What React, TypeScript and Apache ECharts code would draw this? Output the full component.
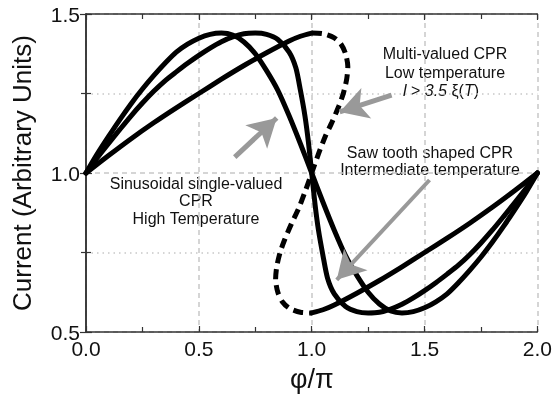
import React, { useEffect, useRef } from "react";
import * as echarts from "echarts";

// Sinusoidal single-valued CPR (peaks earliest)
const c1X = [0, 0.05, 0.1, 0.15, 0.2, 0.25, 0.3, 0.35, 0.4, 0.45, 0.5, 0.55, 0.6, 0.65, 0.7, 0.75, 0.8, 0.85, 0.9, 0.95, 1.0,
  1.05, 1.1, 1.15, 1.2, 1.25, 1.3, 1.35, 1.4, 1.45, 1.5, 1.55, 1.6, 1.65, 1.7, 1.75, 1.8, 1.85, 1.9, 1.95, 2.0];
const c1Y = [1.0, 1.06, 1.115, 1.168, 1.218, 1.264, 1.306, 1.345, 1.38, 1.405, 1.424, 1.436, 1.44, 1.434, 1.412, 1.375, 1.322, 1.26, 1.18, 1.092, 1.0,
  0.908, 0.82, 0.74, 0.678, 0.625, 0.588, 0.566, 0.56, 0.564, 0.576, 0.595, 0.62, 0.655, 0.694, 0.736, 0.782, 0.832, 0.885, 0.94, 1.0];

// Saw tooth shaped CPR
const c2X = [0, 0.05, 0.1, 0.15, 0.2, 0.25, 0.3, 0.35, 0.4, 0.45, 0.5, 0.55, 0.6, 0.65, 0.7, 0.75, 0.8, 0.85, 0.9, 0.93, 0.95, 0.97, 0.985, 1.0,
  1.015, 1.03, 1.05, 1.07, 1.1, 1.15, 1.2, 1.25, 1.3, 1.35, 1.4, 1.45, 1.5, 1.55, 1.6, 1.65, 1.7, 1.75, 1.8, 1.85, 1.9, 1.95, 2.0];
const c2Y = [1.0, 1.048, 1.093, 1.137, 1.18, 1.22, 1.257, 1.29, 1.318, 1.345, 1.37, 1.393, 1.413, 1.428, 1.438, 1.44, 1.436, 1.42, 1.38, 1.33, 1.26, 1.18, 1.1, 1.0,
  0.9, 0.82, 0.74, 0.67, 0.62, 0.58, 0.564, 0.56, 0.562, 0.572, 0.587, 0.607, 0.63, 0.655, 0.682, 0.71, 0.743, 0.78, 0.82, 0.863, 0.907, 0.952, 1.0];

// Multi-valued CPR: solid branches
const c3LeftX = [0, 0.1, 0.2, 0.3, 0.4, 0.5, 0.6, 0.7, 0.8, 0.9, 0.95, 1.0];
const c3LeftY = [1.0, 1.055, 1.108, 1.158, 1.205, 1.25, 1.295, 1.338, 1.378, 1.415, 1.43, 1.44];
const c3RightX = [1.0, 1.05, 1.1, 1.2, 1.3, 1.4, 1.5, 1.6, 1.7, 1.8, 1.9, 2.0];
const c3RightY = [0.56, 0.57, 0.585, 0.622, 0.662, 0.705, 0.75, 0.795, 0.842, 0.892, 0.945, 1.0];
// Multi-valued CPR: dashed (unstable) branch
const c3DashX = [1.0, 1.05, 1.1, 1.13, 1.15, 1.16, 1.155, 1.14, 1.12, 1.09, 1.06, 1.03, 1.0,
  0.97, 0.94, 0.91, 0.88, 0.86, 0.845, 0.84, 0.85, 0.87, 0.9, 0.95, 1.0];
const c3DashY = [1.44, 1.438, 1.425, 1.405, 1.375, 1.335, 1.295, 1.25, 1.21, 1.16, 1.115, 1.06, 1.0,
  0.94, 0.885, 0.84, 0.79, 0.75, 0.705, 0.665, 0.625, 0.595, 0.575, 0.562, 0.56];

// Annotation arrows (tail -> tip) in data coordinates
const arrowSin = [[0.659, 1.05], [0.845, 1.173]];
const arrowMulti = [[1.354, 1.245], [1.124, 1.192]];
const arrowSaw = [[1.522, 0.978], [1.111, 0.664]];

const xTicks = [0, 0.5, 1.0, 1.5, 2.0];
const yTicks = [0.5, 1.0, 1.5];

const zip = (xs: number[], ys: number[]) => xs.map((x, i) => [x, ys[i]]);

const FONT = "Liberation Sans, Arial, Helvetica, sans-serif";

export default function App() {
  const ref = useRef<HTMLDivElement>(null);
  useEffect(() => {
    if (!ref.current) return;
    const chart = echarts.init(ref.current, null, { renderer: "svg" });
    const axisLine = { show: true, lineStyle: { color: "#333", width: 1.5 } };
    const tick = { show: true, inside: true, length: 6, lineStyle: { color: "#333", width: 1.2 } };
    const minorTick = { show: true, splitNumber: 2, length: 5, lineStyle: { color: "#333", width: 1.2 } };
    const label = { color: "#111", fontSize: 21, fontFamily: FONT };
    const solid = (name: string, data: number[][]) => ({
      type: "line", name, data, showSymbol: false, smooth: 0.25, silent: true,
      lineStyle: { color: "#000", width: 5, cap: "round", join: "round" },
    });
    const arrow = (a: number[][], w: number) => [
      { coord: a[0], lineStyle: { color: "#999", width: w, type: "solid" } },
      { coord: a[1] },
    ];
    const txt = (text: string, x: number, y: number, extra: any = {}) => ({
      type: "text", x, y, silent: true,
      style: { text, fill: "#111", font: `16px ${FONT}`, textAlign: "center", textVerticalAlign: "middle", ...extra },
    });
    chart.setOption({
      animation: false,
      grid: { left: 86, right: 17, top: 14, bottom: 75, containLabel: false },
      xAxis: [
        {
          type: "value", min: 0, max: 2, interval: 0.5,
          name: "φ/π", nameLocation: "middle", nameGap: 33,
          nameTextStyle: { fontSize: 27, color: "#111", fontFamily: FONT },
          axisLine, axisTick: tick, minorTick,
          axisLabel: { ...label, margin: 6, formatter: (v: number) => (xTicks.includes(v) ? v.toFixed(1) : "") },
          splitLine: { show: true, lineStyle: { color: "#c8c8c8", width: 1.5, type: [5, 4] } },
        },
        {
          type: "value", position: "top", min: 0, max: 2, interval: 0.5,
          axisLine, axisTick: tick, minorTick, axisLabel: { show: false }, splitLine: { show: false },
        },
      ],
      yAxis: [
        {
          type: "value", min: 0.5, max: 1.5, interval: 0.5,
          name: "Current (Arbitrary Units)", nameLocation: "middle", nameGap: 51,
          nameTextStyle: { fontSize: 26, color: "#111", fontFamily: FONT },
          axisLine, axisTick: tick, minorTick,
          axisLabel: { ...label, margin: 6, formatter: (v: number) => (yTicks.includes(v) ? v.toFixed(1) : "") },
          splitLine: { show: true, lineStyle: { color: "#c8c8c8", width: 1.5, type: [5, 4] } },
          minorSplitLine: { show: true, lineStyle: { color: "#c8c8c8", width: 1.5, type: [1.5, 4] } },
        },
        {
          type: "value", position: "right", min: 0.5, max: 1.5, interval: 0.5,
          axisLine, axisTick: tick, minorTick, axisLabel: { show: false }, splitLine: { show: false },
        },
      ],
      series: [
        {
          ...solid("Sinusoidal single-valued CPR", zip(c1X, c1Y)),
          markLine: {
            silent: true, symbol: ["none", "arrow"], symbolSize: [24, 28],
            label: { show: false },
            lineStyle: { color: "#999", width: 5, type: "solid" },
            data: [arrow(arrowSin, 5), arrow(arrowMulti, 5), arrow(arrowSaw, 4)],
          },
        },
        solid("Saw tooth shaped CPR", zip(c2X, c2Y)),
        solid("Multi-valued CPR", zip(c3LeftX, c3LeftY)),
        solid("Multi-valued CPR ", zip(c3RightX, c3RightY)),
        {
          type: "line", name: "Multi-valued CPR (unstable)", data: zip(c3DashX, c3DashY),
          showSymbol: false, smooth: 0.25, silent: true,
          lineStyle: { color: "#000", width: 5, type: [10, 6], cap: "butt" },
        },
      ],
      graphic: [
        txt("Multi-valued CPR", 445, 53),
        txt("Low temperature", 445, 72),
        {
          type: "text", x: 441, y: 90, silent: true,
          style: {
            text: "{i|l} > {i|3.5} ξ({i|T})", fill: "#111", font: `16px ${FONT}`,
            textAlign: "center", textVerticalAlign: "middle",
            rich: { i: { fontStyle: "italic", fontSize: 16, fontFamily: FONT, fill: "#111" } },
          },
        },
        txt("Saw tooth shaped CPR", 430, 152),
        txt("Intermediate temperature", 430, 169),
        txt("Sinusoidal single-valued", 196, 183),
        txt("CPR", 196, 200),
        txt("High Temperature", 196, 218),
      ],
    });
    return () => chart.dispose();
  }, []);
  return <div ref={ref} style={{ position: "fixed", left: 0, top: 0, width: 555, height: 407 }} />;
}
